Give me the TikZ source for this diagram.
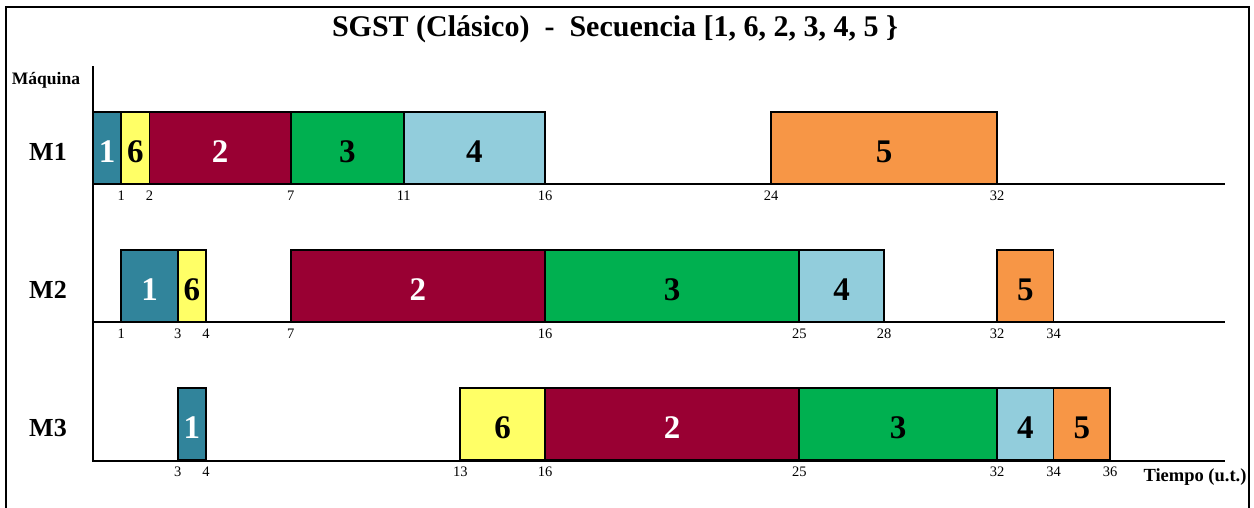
\documentclass[tikz,border=0pt]{standalone}
\usepackage{fontspec}
\setmainfont{Liberation Serif}

\definecolor{job1}{HTML}{31849B}
\definecolor{job6}{HTML}{FFFF66}
\definecolor{job2}{HTML}{990033}
\definecolor{job3}{HTML}{00B050}
\definecolor{job4}{HTML}{92CDDC}
\definecolor{job5}{HTML}{F79646}

\tikzset{
  job/.style={draw=black, line width=1.6pt},
  axis/.style={line width=2.6pt},
  tick/.style={below, inner sep=5pt, font=\fontsize{14.5}{14.5}\selectfont},
  num/.style={yshift=-4pt, font=\fontsize{33}{33}\selectfont\bfseries},
  mach/.style={font=\fontsize{26}{26}\selectfont\bfseries}
}

\begin{document}
\begin{tikzpicture}[x=1pt,y=-1pt]
\useasboundingbox (0,0) rectangle (1254,507);
\draw[line width=1.2pt] (6,7) rectangle (1249,520);

\node[font=\fontsize{30}{30}\selectfont\bfseries] (title) at (615,29) {SGST (Clásico)\ \ -\ \ Secuencia [1, 6, 2, 3, 4, 5 \}};
\node[font=\fontsize{17.5}{17.5}\selectfont\bfseries] (maq) at (46,80) {Máquina};
\node[font=\fontsize{18.5}{18.5}\selectfont\bfseries] (tiempo) at (1195,477) {Tiempo (u.t.)};

\node[mach] (m1) at (48,152) {M1};
\node[mach] (m2) at (48,290) {M2};
\node[mach] (m3) at (48,428) {M3};

\begin{scope}[shift={(93,0)}, x=28.25pt]
% M1
\draw[job, fill=job1] (0,112) rectangle (1,184) node[pos=.5, num, white] (a1) {1};
\draw[job, fill=job6] (1,112) rectangle (2,184) node[pos=.5, num] (a6) {6};
\draw[job, fill=job2] (2,112) rectangle (7,184) node[pos=.5, num, white] (a2) {2};
\draw[job, fill=job3] (7,112) rectangle (11,184) node[pos=.5, num] (a3) {3};
\draw[job, fill=job4] (11,112) rectangle (16,184) node[pos=.5, num] (a4) {4};
\draw[job, fill=job5] (24,112) rectangle (32,184) node[pos=.5, num] (a5) {5};
% M2
\draw[job, fill=job1] (1,250) rectangle (3,322) node[pos=.5, num, white] (b1) {1};
\draw[job, fill=job6] (3,250) rectangle (4,322) node[pos=.5, num] (b6) {6};
\draw[job, fill=job2] (7,250) rectangle (16,322) node[pos=.5, num, white] (b2) {2};
\draw[job, fill=job3] (16,250) rectangle (25,322) node[pos=.5, num] (b3) {3};
\draw[job, fill=job4] (25,250) rectangle (28,322) node[pos=.5, num] (b4) {4};
\draw[job, fill=job5] (32,250) rectangle (34,322) node[pos=.5, num] (b5) {5};
% M3
\draw[job, fill=job1] (3,388) rectangle (4,460) node[pos=.5, num, white] (c1) {1};
\draw[job, fill=job6] (13,388) rectangle (16,460) node[pos=.5, num] (c6) {6};
\draw[job, fill=job2] (16,388) rectangle (25,460) node[pos=.5, num, white] (c2) {2};
\draw[job, fill=job3] (25,388) rectangle (32,460) node[pos=.5, num] (c3) {3};
\draw[job, fill=job4] (32,388) rectangle (34,460) node[pos=.5, num] (c4) {4};
\draw[job, fill=job5] (34,388) rectangle (36,460) node[pos=.5, num] (c5) {5};

% tiempos de inicio y fin
\foreach \t in {1,2,7,11,16,24,32} \node[tick] (ta\t) at (\t,186) {\t};
\foreach \t in {1,3,4,7,16,25,28,32,34} \node[tick] (tb\t) at (\t,324) {\t};
\foreach \t in {3,4,13,16,25,32,34,36} \node[tick] (tc\t) at (\t,462) {\t};
\end{scope}

% ejes
\coordinate (o) at (93,66);
\coordinate (e3) at (93,461);
\draw[axis] (o) -- (e3) -- (1225,461);
\draw[axis] (93,184) -- (1225,184);
\draw[axis] (93,322) -- (1225,322);
\end{tikzpicture}
\end{document}
